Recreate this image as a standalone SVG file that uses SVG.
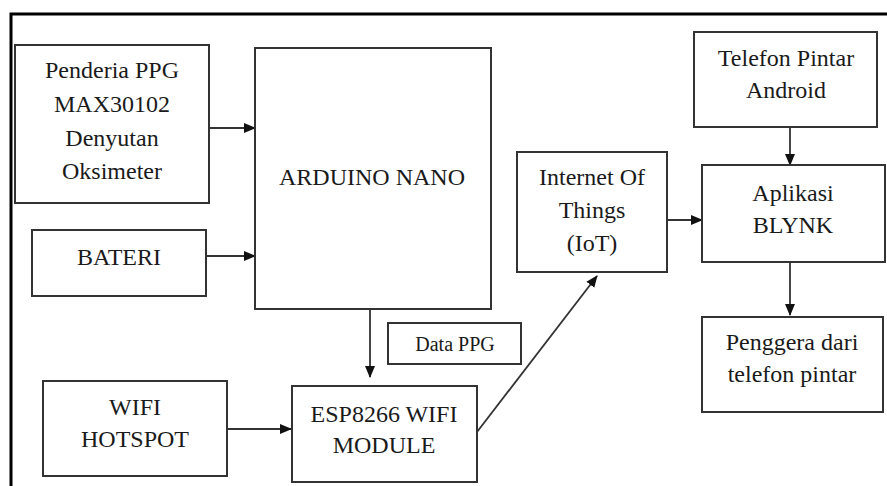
<svg xmlns="http://www.w3.org/2000/svg" width="887" height="486" viewBox="0 0 887 486">
  <defs>
    <marker id="arr" markerUnits="userSpaceOnUse" markerWidth="12" markerHeight="12" viewBox="0 0 12 12" refX="11" refY="6" orient="auto">
      <path d="M0,1 L12,6 L0,11 Z" fill="#111"/>
    </marker>
    <style>
      .box { fill: #fff; stroke: #333; stroke-width: 2; }
      .t { font-family: 'Liberation Serif', 'DejaVu Serif', serif; font-size: 24px; fill: #1a1a1a; text-anchor: middle; }
      .ts { font-family: 'Liberation Serif', 'DejaVu Serif', serif; font-size: 20px; fill: #1a1a1a; text-anchor: middle; }
      .c { stroke: #333; stroke-width: 1.8; fill: none; marker-end: url(#arr); }
    </style>
  </defs>
  <rect x="0" y="0" width="887" height="486" fill="#fff"/>
  <g id="frame">
    <path d="M11,487 L11,14 L888,14" fill="none" stroke="#000" stroke-width="3"/>
  </g>

  <g id="connectors">
    <line class="c" x1="209" y1="128" x2="255" y2="128"/>
    <line class="c" x1="206" y1="256" x2="255" y2="256"/>
    <line class="c" x1="370" y1="309" x2="370" y2="377"/>
    <line class="c" x1="227" y1="429" x2="291" y2="429"/>
    <line class="c" x1="477" y1="432" x2="597" y2="276"/>
    <line class="c" x1="667" y1="220" x2="702" y2="220"/>
    <line class="c" x1="790" y1="127" x2="790" y2="165"/>
    <line class="c" x1="790" y1="262" x2="790" y2="315"/>
  </g>

  <g id="penderia">
    <rect class="box" x="15" y="45" width="194" height="158"/>
    <text class="t" x="112" y="78">Penderia PPG</text>
    <text class="t" x="112" y="112">MAX30102</text>
    <text class="t" x="112" y="146">Denyutan</text>
    <text class="t" x="112" y="179">Oksimeter</text>
  </g>

  <g id="arduino">
    <rect class="box" x="255" y="48" width="236" height="261"/>
    <text class="t" x="372" y="185">ARDUINO NANO</text>
  </g>

  <g id="bateri">
    <rect class="box" x="32" y="230" width="174" height="66"/>
    <text class="t" x="119" y="265">BATERI</text>
  </g>

  <g id="datappg">
    <rect class="box" x="388" y="323" width="133" height="41"/>
    <text class="ts" x="455" y="351">Data PPG</text>
  </g>

  <g id="wifihotspot">
    <rect class="box" x="43" y="381" width="184" height="95"/>
    <text class="t" x="135" y="415">WIFI</text>
    <text class="t" x="135" y="447">HOTSPOT</text>
  </g>

  <g id="esp8266">
    <rect class="box" x="292" y="386" width="185" height="96"/>
    <text class="t" x="384" y="422">ESP8266 WIFI</text>
    <text class="t" x="384" y="453">MODULE</text>
  </g>

  <g id="iot">
    <rect class="box" x="517" y="152" width="150" height="120"/>
    <text class="t" x="592" y="185">Internet Of</text>
    <text class="t" x="592" y="218">Things</text>
    <text class="t" x="592" y="251">(IoT)</text>
  </g>

  <g id="telefon">
    <rect class="box" x="694" y="32" width="183" height="95"/>
    <text class="t" x="786" y="66">Telefon Pintar</text>
    <text class="t" x="786" y="98">Android</text>
  </g>

  <g id="blynk">
    <rect class="box" x="702" y="165" width="183" height="97"/>
    <text class="t" x="793" y="201">Aplikasi</text>
    <text class="t" x="793" y="233">BLYNK</text>
  </g>

  <g id="penggera">
    <rect class="box" x="702" y="317" width="181" height="95"/>
    <text class="t" x="792" y="350">Penggera dari</text>
    <text class="t" x="792" y="382">telefon pintar</text>
  </g>
</svg>
